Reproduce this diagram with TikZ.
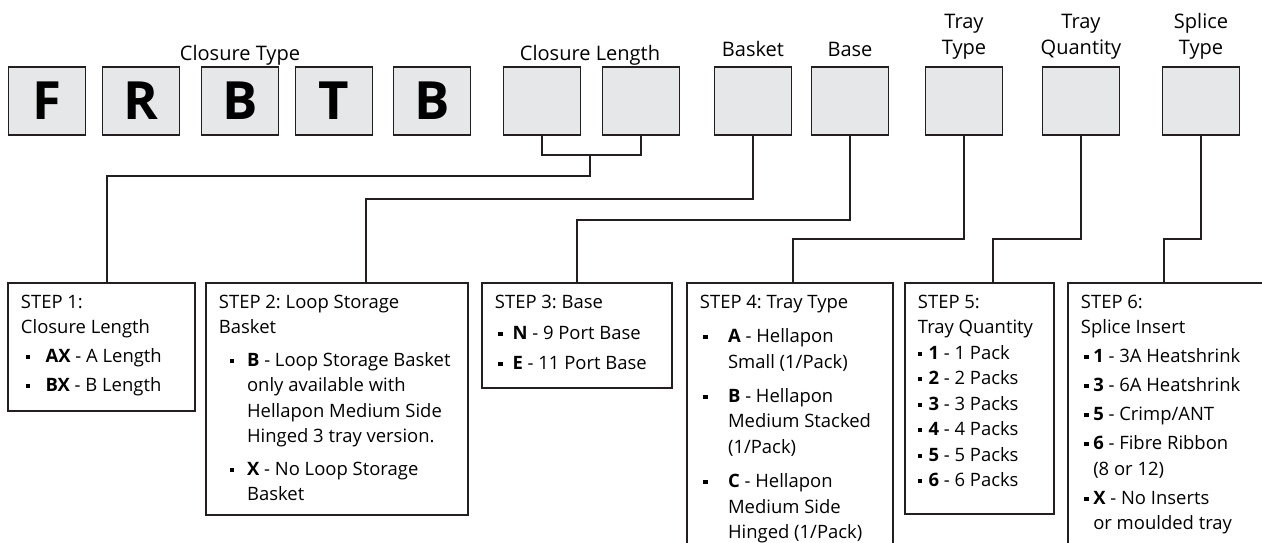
\documentclass[tikz,border=0pt]{standalone}
\usepackage{fontspec}
\setmainfont{Open Sans}
\usetikzlibrary{positioning}

\definecolor{boxgrey}{RGB}{230,231,233}
\definecolor{inkline}{RGB}{35,31,32}

% bullet with its offset and the text indent
\newcommand{\bul}{\rule[1.9pt]{2.4pt}{2.4pt}}
\newcommand{\bulx}{3pt}
\newcommand{\txtx}{15pt}
\newcommand{\itm}[1]{\par\hangindent=\txtx\hangafter=1\noindent\hspace*{\bulx}\rlap{\bul}\hspace*{\dimexpr\txtx-\bulx\relax}#1}

\begin{document}
\begin{tikzpicture}[x=0.02cm, y=-0.02cm,
	codebox/.style={draw=inkline, line width=1.1pt, fill=boxgrey, minimum width=1.54cm, minimum height=1.36cm, inner sep=0pt, font=\fontsize{30}{30}\selectfont\bfseries},
	toplbl/.style={inner sep=0pt, text depth=0pt, align=center, font=\fontsize{11.4}{15}\selectfont},
	stepbox/.style={draw=inkline, line width=1.1pt, anchor=north west, inner xsep=0.26cm, inner ysep=0.24cm, font=\fontsize{10.5}{14.5}\selectfont\frenchspacing},
	link/.style={draw=inkline, line width=1.1pt}]
	\useasboundingbox (0,0) rectangle (1262,543);
	\clip (0,0) rectangle (1262,543);

	% code boxes along the top
	\foreach \nm/\xc/\txt in {c1/47/F, c2/141/R, c3/240/B, c4/334/T, c5/432/B, c6/542/{}, c7/641/{}, c8/753/{}, c9/850/{}, c10/964/{}, c11/1081/{}, c12/1201/{}}{
			\node[codebox] (\nm) at (\xc,101) {\txt};
		}

	\node[toplbl] (lbltype) at (240,53) {Closure Type};
	\node[toplbl] (lbllen) at (590,53) {Closure Length};
	\node[toplbl, above=0.18cm of c8] (lblbask) {Basket};
	\node[toplbl, above=0.18cm of c9] (lblbase) {Base};
	\node[toplbl, above=0.22cm of c10] (lbltt) {Tray\\Type};
	\node[toplbl, above=0.22cm of c11] (lbltq) {Tray\\Quantity};
	\node[toplbl, above=0.22cm of c12] (lblsp) {Splice\\Type};

	% step boxes
	\node[stepbox] (s1) at (7,282) {\parbox[t][2.08cm][t]{3.22cm}{\raggedright\setlength{\parskip}{2pt}\renewcommand{\bulx}{3pt}\renewcommand{\txtx}{14pt}%
			STEP 1:\newline Closure Length
			\itm{\textbf{AX} - A Length}
			\itm{\textbf{BX} - B Length}}};
	\node[stepbox] (s2) at (205,282) {\parbox[t][4.16cm][t]{4.72cm}{\raggedright\setlength{\parskip}{4pt}\renewcommand{\bulx}{6pt}\renewcommand{\txtx}{16pt}%
			STEP 2: Loop Storage\newline Basket
			\itm{\textbf{B} - Loop Storage Basket\newline only available with\newline Hellapon Medium Side\newline Hinged 3 tray version.}
			\itm{\textbf{X} - No Loop Storage\newline Basket}}};
	\node[stepbox] (s3) at (481,282) {\parbox[t][1.62cm][t]{3.28cm}{\raggedright\setlength{\parskip}{3pt}\renewcommand{\bulx}{2pt}\renewcommand{\txtx}{10pt}%
			STEP 3: Base
			\itm{\textbf{N} - 9 Port Base}
			\itm{\textbf{E} - 11 Port Base}}};
	\node[stepbox] (s4) at (686,282) {\parbox[t][5cm][t]{3.6cm}{\raggedright\setlength{\parskip}{5pt}\renewcommand{\bulx}{2pt}\renewcommand{\txtx}{16pt}%
			STEP 4: Tray Type
			\itm{\textbf{A} - Hellapon\newline Small (1/Pack)}
			\itm{\textbf{B} - Hellapon\newline Medium Stacked\newline (1/Pack)}
			\itm{\textbf{C} - Hellapon\newline Medium Side\newline Hinged (1/Pack)}}};
	\node[stepbox] (s5) at (904,282) {\parbox[t][4.14cm][t]{2.46cm}{\raggedright\setlength{\parskip}{0pt}\renewcommand{\bulx}{0pt}\renewcommand{\txtx}{6pt}%
			STEP 5:\newline Tray~Quantity
			\itm{\textbf{1} - 1 Pack}
			\itm{\textbf{2} - 2 Packs}
			\itm{\textbf{3} - 3 Packs}
			\itm{\textbf{4} - 4 Packs}
			\itm{\textbf{5} - 5 Packs}
			\itm{\textbf{6} - 6 Packs}}};
	\node[stepbox] (s6) at (1067,282) {\parbox[t][5cm][t]{4.4cm}{\raggedright\setlength{\parskip}{2pt}\renewcommand{\bulx}{2pt}\renewcommand{\txtx}{7pt}%
			STEP 6:\newline Splice Insert
			\itm{\textbf{1} - 3A Heatshrink}
			\itm{\textbf{3} - 6A Heatshrink}
			\itm{\textbf{5} - Crimp/ANT}
			\itm{\textbf{6} - Fibre Ribbon\newline (8 or 12)}
			\itm{\textbf{X} - No Inserts\newline or moulded tray}}};

	% where the links meet the step boxes
	\coordinate (j1) at (590,155);
	\coordinate (in1) at (107,282);
	\coordinate (in2) at (366,282);
	\coordinate (in3) at (577,282);
	\coordinate (in4) at (793,282);
	\coordinate (in5) at (993,282);
	\coordinate (in6) at (1164,282);

	\draw[link] (c6.south) |- (j1) -| (c7.south);
	\draw[link] (j1) -- ++(0,21) -| (in1);
	\draw[link] (c8.south) -- ++(0,63) -| (in2);
	\draw[link] (c9.south) -- ++(0,84) -| (in3);
	\draw[link] (c10.south) -- ++(0,103) -| (in4);
	\draw[link] (c11.south) -- ++(0,103) -| (in5);
	\draw[link] (c12.south) -- ++(0,103) -| (in6);

\end{tikzpicture}
\end{document}
